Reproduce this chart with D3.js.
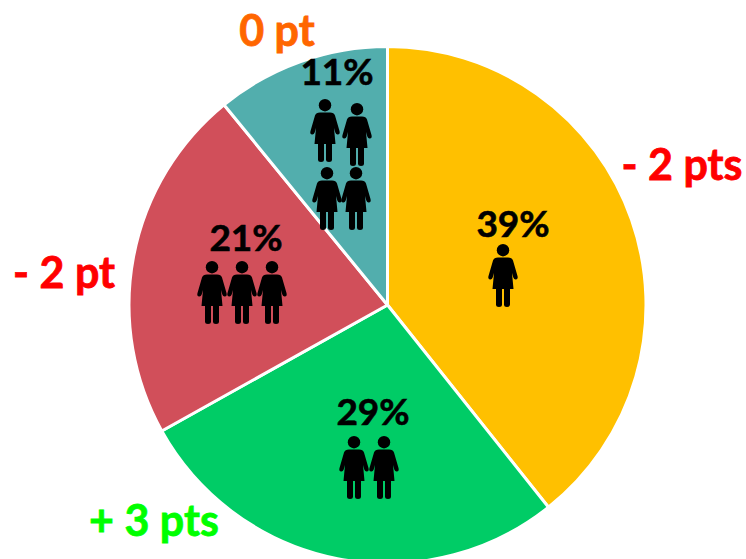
<!DOCTYPE html>
<html>
<head>
<meta charset="utf-8">
<script src="https://cdn.jsdelivr.net/npm/d3@7"></script>
<style>html,body{margin:0;padding:0;background:#fff;overflow:hidden}svg{display:block}</style>
</head>
<body>
<svg id="chart" width="746" height="559"></svg>
<script>
const categories = ["- 2 pts", "+ 3 pts", "- 2 pt", "0 pt"];
const percentLabels = ["39%", "29%", "21%", "11%"];
const sliceValues = [39.3, 27.6, 22.2, 10.9];
const sliceColors = ["#FFC000", "#00CC66", "#D14F5A", "#52AEAD"];
const categoryColors = ["#FF0000", "#00FF00", "#FF0000", "#FF6600"];
const categoryAnchors = [[682, 165], [154, 521], [64, 273], [277, 31]];
const percentAnchors = [[513, 224], [373, 412], [246, 238], [337, 72]];
const iconAnchors = [
  [[503, 244]],
  [[354, 436], [384, 436]],
  [[212, 261], [242, 261], [272, 261]],
  [[325, 99], [357, 103], [327, 167], [356, 167]]
];

const svg = d3.select("#chart");
const cx = 387.5, cy = 305, radius = 258.5;
const pie = d3.pie().sort(null).value(d => d);
const arc = d3.arc().innerRadius(0).outerRadius(radius);

const g = svg.append("g").attr("transform", `translate(${cx},${cy})`);
g.selectAll("path").data(pie(sliceValues)).join("path")
  .attr("d", arc)
  .attr("fill", (d, i) => sliceColors[i])
  .attr("stroke", "#fff").attr("stroke-width", 3).attr("stroke-linejoin", "round");

const personBody = "M-5,13.5 L5,13.5 Q9,13.5 10,16.5 L14.5,32 Q15.3,35 13.2,35.5 Q11.2,36 10.3,33.5 L9,29 L10.5,45 L7,45 L7,60.5 Q7,63 4,63 Q1,63 1,60.5 L1,45 L-1,45 L-1,60.5 Q-1,63 -4,63 Q-7,63 -7,60.5 L-7,45 L-10.5,45 L-9,29 L-10.3,33.5 Q-11.2,36 -13.2,35.5 Q-15.3,35 -14.5,32 L-10,16.5 Q-9,13.5 -5,13.5 Z";

const people = svg.append("g");
iconAnchors.flat().forEach(([x, y]) => {
  const p = people.append("g").attr("transform", `translate(${x},${y})`);
  p.append("circle").attr("cx", 0).attr("cy", 6.2).attr("r", 6.2).attr("fill", "#000");
  p.append("path").attr("d", personBody).attr("fill", "#000");
});

const font = "Lato, 'Open Sans', sans-serif";
svg.append("g").selectAll("text").data(percentLabels).join("text")
  .attr("x", (d, i) => percentAnchors[i][0])
  .attr("y", (d, i) => percentAnchors[i][1])
  .attr("dy", "0.36em").attr("text-anchor", "middle")
  .attr("font-family", font).attr("font-weight", 700).attr("font-size", 37)
  .attr("stroke", "#000").attr("stroke-width", 0.6)
  .attr("fill", "#000").text(d => d);

svg.append("g").selectAll("text").data(categories).join("text")
  .attr("x", (d, i) => categoryAnchors[i][0])
  .attr("y", (d, i) => categoryAnchors[i][1])
  .attr("dy", "0.36em").attr("text-anchor", "middle")
  .attr("font-family", font).attr("font-weight", 700).attr("font-size", 43)
  .attr("stroke", (d, i) => categoryColors[i]).attr("stroke-width", 0.8)
  .attr("fill", (d, i) => categoryColors[i]).text(d => d);
</script>
</body>
</html>
